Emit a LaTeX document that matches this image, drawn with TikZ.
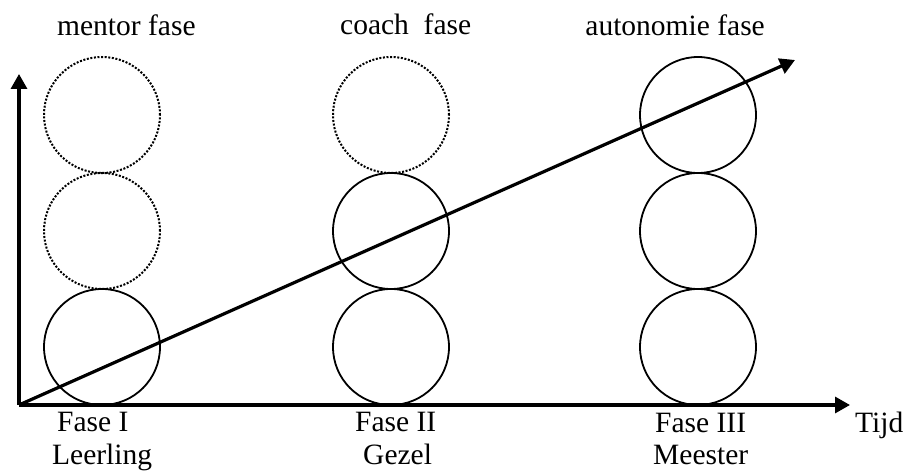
\documentclass[tikz,border=0pt]{standalone}
\usepackage{fontspec}
\setmainfont{Liberation Serif}
\usetikzlibrary{arrows.meta}
\begin{document}
\begin{tikzpicture}[x=1pt,y=1pt,
  axis/.style={line width=3.2pt,-{Triangle[width=16pt,length=15pt]}},
  solidcirc/.style={circle,draw,line width=1.8pt,minimum size=116pt,inner sep=0pt},
  dotcirc/.style={circle,draw,line width=2pt,dash pattern=on 2pt off 1.6pt,minimum size=116pt,inner sep=0pt},
  lbl/.style={inner sep=0pt,font=\fontsize{29.5}{34}\selectfont}]
\useasboundingbox (0,0) rectangle (910,471);
% axes
\coordinate (O) at (19,66);
\coordinate (ytip) at (19,397);
\coordinate (xtip) at (850,66);
\coordinate (dtip) at (795,411);
% circles column 1
\node[solidcirc] (c11) at (102,124) {};
\node[dotcirc] (c12) at (102,240) {};
\node[dotcirc] (c13) at (102,356) {};
% column 2
\node[solidcirc] (c21) at (391,124) {};
\node[solidcirc] (c22) at (391,240) {};
\node[dotcirc] (c23) at (391,356) {};
% column 3
\node[solidcirc] (c31) at (698,124) {};
\node[solidcirc] (c32) at (698,240) {};
\node[solidcirc] (c33) at (698,356) {};
\draw[axis] (O) -- (ytip);
\draw[axis] (O) -- (xtip);
\draw[axis] (O) -- (dtip);
% labels
\node[lbl,anchor=base west] (t1) at (57,435) {mentor fase};
\node[lbl,anchor=base west] (t2) at (340,436) {coach\ \ fase};
\node[lbl,anchor=base east] (t3) at (765,435) {autonomie fase};
\node[lbl,anchor=base west] (f1) at (57,39) {Fase I};
\node[lbl,anchor=base west] (l1) at (52,6) {Leerling};
\node[lbl,anchor=base west] (f2) at (355,39) {Fase II};
\node[lbl,anchor=base west] (l2) at (363,6) {Gezel};
\node[lbl,anchor=base west] (f3) at (655,38) {Fase III};
\node[lbl,anchor=base west] (l3) at (653,6) {Meester};
\node[lbl,anchor=base west] (tijd) at (855,38) {Tijd};
\end{tikzpicture}
\end{document}
